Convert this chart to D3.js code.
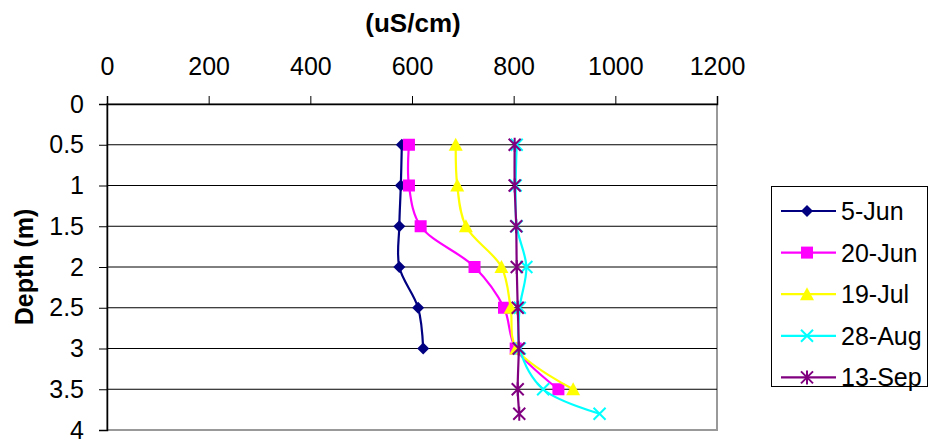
<!DOCTYPE html>
<html><head><meta charset="utf-8">
<script src="https://cdn.jsdelivr.net/npm/d3@7"></script>
<style>
html,body{margin:0;padding:0;background:#fff;}
text{font-family:"Liberation Sans",Arial,sans-serif;}
</style></head>
<body><svg id="c" width="929" height="445"></svg>
<script>
const seriesNames = ["5-Jun","20-Jun","19-Jul","28-Aug","13-Sep"];
const colors = ["#000080","#FF00FF","#FFFF00","#00FFFF","#800080"];
const markers = ["diamond","square","triangle","x","star"];
const depth5Jun = [0.5,1,1.5,2,2.5,3];
const cond5Jun  = [580,578,575,575,612,622];
const depth20Jun = [0.5,1,1.5,2,2.5,3,3.5];
const cond20Jun  = [594,594,617,723,781,804,888];
const depth19Jul = [0.5,1,1.5,2,2.5,3,3.5];
const cond19Jul  = [686,689,706,776,794,805,917];
const depth28Aug = [0.5,1,1.5,2,2.5,3,3.5,3.8];
const cond28Aug  = [806,804,806,825,812,812,858,969];
const depth13Sep = [0.5,1,1.5,2,2.5,3,3.5,3.8];
const cond13Sep  = [802,802,805,806,808,810,808,811];
const xTicks = [0,200,400,600,800,1000,1200];
const yTicks = [0,0.5,1,1.5,2,2.5,3,3.5,4];

const series = [
  {depth:depth5Jun, cond:cond5Jun},
  {depth:depth20Jun, cond:cond20Jun},
  {depth:depth19Jul, cond:cond19Jul},
  {depth:depth28Aug, cond:cond28Aug},
  {depth:depth13Sep, cond:cond13Sep}
];

const svg = d3.select("#c");
const L=107, R=717, T=104, B=430;
const x = d3.scaleLinear().domain([0,1200]).range([L,R]);
const y = d3.scaleLinear().domain([0,4]).range([T,B]);

// plot border (grey)
svg.append("rect").attr("x",L).attr("y",T).attr("width",R-L).attr("height",B-T)
  .attr("fill","#fff").attr("stroke","#999").attr("stroke-width",2);

// gridlines
svg.append("g").selectAll("line").data(yTicks.slice(1,-1)).join("line")
  .attr("x1",L).attr("x2",R).attr("y1",d=>y(d)).attr("y2",d=>y(d))
  .attr("stroke","#000").attr("stroke-width",1);

// top axis
const xa = svg.append("g").attr("transform",`translate(0,${T})`)
  .call(d3.axisTop(x).tickValues(xTicks).tickSize(8).tickPadding(21).tickFormat(d3.format("d")));
xa.select(".domain").attr("stroke","#000").attr("stroke-width",1.5);
xa.selectAll(".tick line").attr("stroke","#000");
xa.selectAll("text").attr("font-size",25).attr("fill","#000").attr("font-family","Liberation Sans, Arial, sans-serif");

// left axis
const ya = svg.append("g").attr("transform",`translate(${L},0)`)
  .call(d3.axisLeft(y).tickValues(yTicks).tickSize(8).tickPadding(15).tickFormat(d=>String(d)));
ya.select(".domain").attr("stroke","#000").attr("stroke-width",1.5);
ya.selectAll(".tick line").attr("stroke","#000");
ya.selectAll("text").attr("font-size",25).attr("fill","#000").attr("font-family","Liberation Sans, Arial, sans-serif");

// titles
svg.append("text").attr("x",(L+R)/2+1).attr("y",32).attr("text-anchor","middle")
  .attr("font-size",26).attr("font-weight","bold").text("(uS/cm)");
svg.append("text").attr("transform",`translate(33,${(T+B)/2}) rotate(-90)`).attr("text-anchor","middle")
  .attr("font-size",25).attr("font-weight","bold").text("Depth (m)");

function drawMarker(g, type, color, cx, cy){
  if(type==="diamond"){
    g.append("path").attr("d",`M${cx},${cy-6}L${cx+6},${cy}L${cx},${cy+6}L${cx-6},${cy}Z`).attr("fill",color);
  } else if(type==="square"){
    g.append("rect").attr("x",cx-6).attr("y",cy-6).attr("width",12).attr("height",12).attr("fill",color);
  } else if(type==="triangle"){
    g.append("path").attr("d",`M${cx},${cy-7}L${cx+7},${cy+6}L${cx-7},${cy+6}Z`).attr("fill",color);
  } else if(type==="x"){
    g.append("path").attr("d",`M${cx-6},${cy-6}L${cx+6},${cy+6}M${cx-6},${cy+6}L${cx+6},${cy-6}`)
      .attr("stroke",color).attr("stroke-width",2);
  } else if(type==="star"){
    g.append("path").attr("d",`M${cx-6},${cy-6}L${cx+6},${cy+6}M${cx-6},${cy+6}L${cx+6},${cy-6}M${cx},${cy-7}L${cx},${cy+7}`)
      .attr("stroke",color).attr("stroke-width",2);
  }
}

const line = d3.line().x(d=>x(d[1])).y(d=>y(d[0])).curve(d3.curveCatmullRom.alpha(0.5));
series.forEach((s,i)=>{
  const pts = s.depth.map((d,j)=>[d,s.cond[j]]);
  const g = svg.append("g");
  g.append("path").attr("d",line(pts)).attr("fill","none").attr("stroke",colors[i]).attr("stroke-width",2.2);
  pts.forEach(p=>drawMarker(g, markers[i], colors[i], x(p[1]), y(p[0])));
});

// legend
const lg = svg.append("g");
lg.append("rect").attr("x",771.5).attr("y",186.5).attr("width",156).attr("height",200)
  .attr("fill","#fff").attr("stroke","#000").attr("stroke-width",1);
seriesNames.forEach((n,i)=>{
  const cy = 211 + i*41.6;
  lg.append("line").attr("x1",781).attr("x2",836).attr("y1",cy).attr("y2",cy)
    .attr("stroke",colors[i]).attr("stroke-width",2.2);
  drawMarker(lg, markers[i], colors[i], 807, cy);
  lg.append("text").attr("x",841).attr("y",cy).attr("dy","0.36em").attr("font-size",25).text(n);
});
</script></body></html>
